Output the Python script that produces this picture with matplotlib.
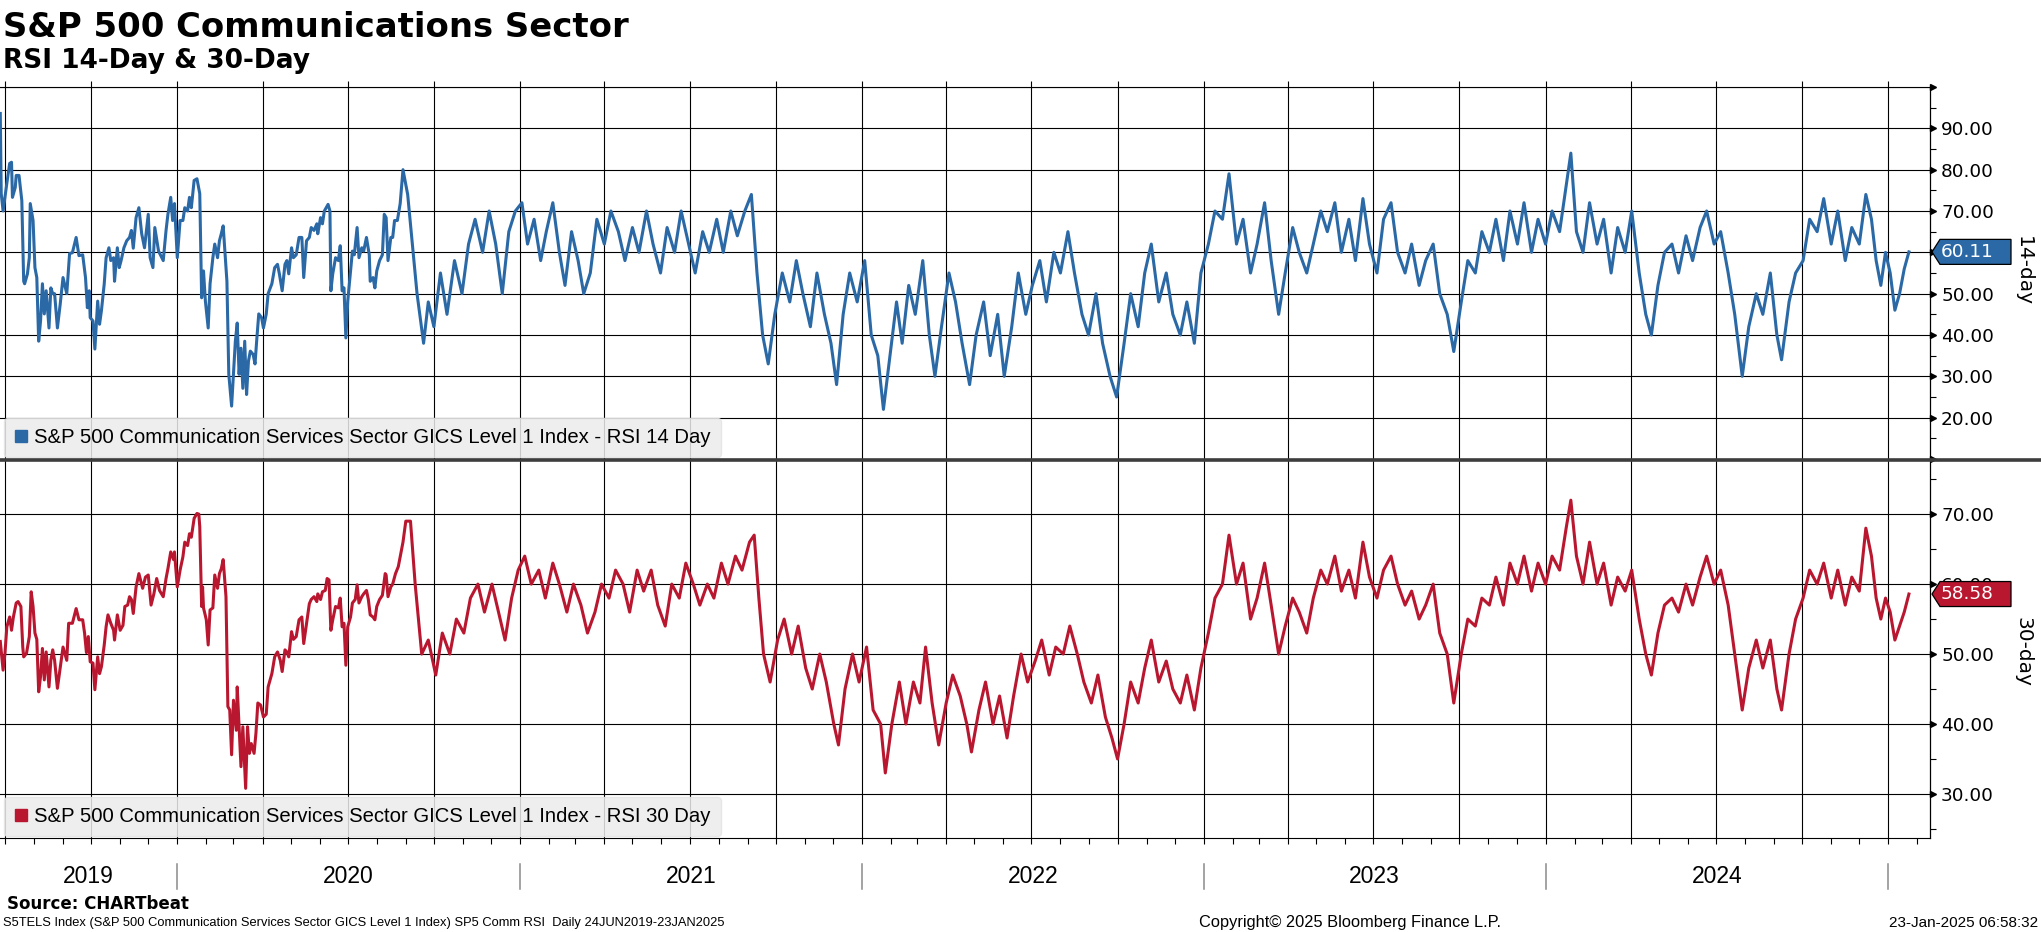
import pandas as pd
import matplotlib
matplotlib.use('Agg')
import matplotlib.pyplot as plt
import matplotlib.dates as mdates
import matplotlib.transforms as mtransforms
from matplotlib.ticker import MultipleLocator, FuncFormatter
from matplotlib.lines import Line2D
from matplotlib.patches import Polygon

# ---- data: day offsets from 2019-07-01 and RSI values ----
base = pd.Timestamp('2019-07-01')

day14 = [-5, -4, -2, 2, 5, 7, 8, 11, 12, 15, 18, 20, 21, 24, 26, 27, 30, 32, 34, 36, 38, 40, 42, 44, 47, 49, 51, 53,
         56, 59, 62, 66, 69, 72, 76, 79, 83, 86, 88, 90, 91, 94, 96, 99, 101, 103, 106, 108, 111, 113, 116, 117, 120,
         122, 124, 127, 130, 133, 135, 137, 140, 143, 146, 149, 153, 155, 158, 160, 164, 166, 169, 172, 174, 177, 179,
         181, 184, 187, 190, 192, 195, 197, 199, 202, 205, 208, 210, 212, 214, 217, 219, 222, 224, 227, 229, 231, 233,
         237, 239, 242, 244, 246, 248, 250, 252, 254, 256, 258, 260, 262, 265, 267, 269, 271, 274, 276, 279, 281, 285,
         288, 291, 293, 296, 299, 301, 303, 306, 308, 311, 314, 317, 319, 322, 325, 327, 330, 333, 334, 337, 339, 341,
         343, 345, 347, 348, 350, 353, 356, 358, 360, 362, 364, 366, 369, 371, 373, 376, 378, 381, 383, 386, 389, 390,
         393, 395, 397, 400, 403, 405, 407, 409, 412, 414, 416, 419, 422,
         425, 430, 435, 440, 447, 452, 458, 465, 472, 480, 488, 495, 502, 510, 517, 524, 531, 538, 545, 552, 558, 565,
         572, 578, 585, 592, 598, 605, 612, 618, 625, 632, 640, 647, 655, 662, 670, 677, 685, 692, 700, 707, 715, 722,
         730, 737, 745, 752, 760, 767, 775, 782, 790, 797, 803, 809, 815, 822, 830, 838, 845, 852, 860, 867, 875, 882,
         888, 895, 902, 910, 918, 925, 932, 938, 945, 952, 958, 965, 972, 980, 987, 993, 1000, 1008, 1015, 1022, 1030,
         1037, 1045, 1052, 1060, 1067, 1075, 1082, 1090, 1097, 1105, 1112, 1120, 1127, 1135, 1142, 1150, 1157, 1165,
         1172, 1180, 1187, 1195, 1202, 1210, 1217, 1224, 1232, 1240, 1247, 1255, 1262, 1270, 1277, 1285, 1292, 1300,
         1307, 1315, 1322, 1330, 1337, 1345, 1352, 1360, 1367, 1375, 1382, 1390, 1397, 1405, 1412, 1420, 1427, 1435,
         1442, 1450, 1457, 1465, 1472, 1480, 1487, 1495, 1502, 1510, 1517, 1525, 1532, 1540, 1547, 1555, 1562, 1570,
         1577, 1585, 1592, 1600, 1607, 1615, 1622, 1630, 1637, 1645, 1652, 1660, 1667, 1672, 1678, 1685, 1692, 1700,
         1707, 1715, 1722, 1730, 1737, 1745, 1752, 1758, 1765, 1772, 1780, 1787, 1795, 1802, 1810, 1817, 1825, 1832,
         1840, 1847, 1855, 1862, 1870, 1877, 1885, 1892, 1897, 1905, 1912, 1920, 1927, 1935, 1942, 1950, 1957, 1965,
         1972, 1980, 1987, 1993, 1998, 2003, 2008, 2013, 2018, 2023, 2028, 2033]
rsi14 = [93.6, 74.2, 70.0, 76.7, 81.5, 81.8, 73.3, 75.7, 78.6, 78.6, 72.5, 53.0, 52.4, 54.8, 58.7, 71.8, 67.7, 56.3,
         53.9, 38.5, 43.4, 52.4, 45.1, 50.7, 41.7, 51.4, 50.0, 50.0, 41.7, 47.5, 53.9, 50.0, 59.7, 59.9, 63.6, 59.2,
         59.4, 53.9, 46.6, 50.7, 44.2, 43.4, 36.6, 48.2, 42.6, 45.9, 52.4, 58.7, 61.1, 58.0, 58.7, 53.0, 61.1, 56.3,
         58.0, 61.1, 62.8, 63.6, 65.3, 61.0, 68.4, 70.8, 64.5, 61.1, 69.2, 58.7, 56.3, 66.0, 60.3, 59.4, 58.0, 65.3,
         69.2, 73.3, 67.7, 71.8, 58.7, 67.7, 67.7, 70.8, 70.0, 73.3, 70.8, 77.4, 77.8, 74.2, 49.0, 55.5, 48.2, 41.7,
         52.4, 58.7, 62.0, 58.7, 62.8, 64.5, 66.4, 53.0, 30.5, 22.8, 30.5, 38.5, 42.9, 30.5, 36.8, 27.1, 38.5, 25.6,
         33.7, 36.1, 35.3, 33.0, 39.3, 45.1, 44.2, 41.7, 45.1, 50.0, 52.4, 56.3, 57.1, 54.8, 50.7, 57.1, 58.0, 54.8,
         61.1, 58.7, 59.4, 63.6, 63.6, 53.9, 62.8, 63.6, 66.0, 65.3, 66.9, 64.5, 68.4, 66.9, 70.0, 70.8, 71.6, 70.0,
         50.7, 54.8, 58.7, 58.0, 61.6, 50.7, 51.4, 39.3, 48.2, 55.5, 60.3, 59.4, 66.0, 58.7, 61.1, 60.3, 63.6, 59.4,
         53.0, 53.9, 51.4, 55.5, 58.0, 59.4, 69.2, 68.4, 58.0, 63.6, 63.6, 67.7, 67.7, 71.8,
         80, 74, 62, 50, 38, 48, 42, 55, 45, 58, 50, 62, 68, 60, 70, 62, 50, 65, 70, 72, 62, 68, 58, 65, 72, 60, 52, 65,
         58, 50, 55, 68, 62, 70, 65, 58, 66, 60, 70, 62, 55, 66, 60, 70, 62, 55, 65, 60, 68, 60, 70, 64, 70, 74, 55, 40,
         33, 45, 55, 48, 58, 50, 42, 55, 45, 38, 28, 45, 55, 48, 58, 40, 35, 22, 35, 48, 38, 52, 45, 58, 40, 30, 42, 55,
         48, 38, 28, 40, 48, 35, 45, 30, 42, 55, 45, 52, 58, 48, 60, 55, 65, 55, 45, 40, 50, 38, 30, 25, 38, 50, 42, 55,
         62, 48, 55, 45, 40, 48, 38, 55, 62, 70, 68, 79, 62, 68, 55, 62, 72, 58, 45, 55, 66, 60, 55, 62, 70, 65, 72, 60,
         68, 58, 73, 62, 55, 68, 72, 60, 55, 62, 52, 58, 62, 50, 45, 36, 48, 58, 55, 65, 60, 68, 58, 70, 62, 72, 60, 68,
         62, 70, 65, 76, 84, 65, 60, 72, 62, 68, 55, 66, 60, 70, 55, 45, 40, 52, 60, 62, 55, 64, 58, 66, 70, 62, 65, 55,
         45, 30, 42, 50, 45, 55, 40, 34, 48, 55, 58, 68, 65, 73, 62, 70, 58, 66, 62, 74, 68, 58, 52, 60, 55, 46, 50, 56,
         60.11]

day30 = [-5, -2, 0, 2, 5, 7, 9, 12, 14, 17, 19, 20, 23, 26, 28, 30, 32, 34, 36, 38, 40, 42, 44, 47, 49, 51, 53, 56,
         59, 62, 66, 68, 72, 76, 79, 83, 85, 87, 89, 91, 94, 96, 99, 101, 103, 106, 108, 110, 113, 116, 117, 120, 123,
         126, 128, 131, 133, 135, 137, 140, 143, 147, 150, 153, 156, 159, 162, 165, 169, 172, 174, 177, 180, 181, 184,
         187, 190, 192, 195, 197, 199, 202, 205, 207, 208, 210, 211, 212, 215, 217, 219, 222, 224, 227, 229, 231, 233,
         236, 238, 240, 242, 244, 247, 248, 250, 252, 254, 257, 259, 261, 263, 266, 268, 270, 273, 276, 279, 281, 285,
         288, 291, 294, 296, 299, 301, 303, 306, 308, 311, 314, 317, 319, 322, 325, 327, 330, 333, 334, 337, 339, 342,
         344, 346, 348, 350, 353, 356, 358, 360, 362, 364, 366, 369, 371, 374, 376, 378, 381, 383, 386, 388, 390, 393,
         395, 397, 400, 403, 406, 407, 409, 412, 414, 417, 420, 422,
         425, 428, 433, 438, 445, 452, 460, 467, 475, 482, 490, 497, 505, 512, 520, 527, 534, 541, 548, 555, 562, 570,
         577, 585, 592, 600, 607, 615, 622, 630, 637, 645, 652, 660, 667, 675, 682, 690, 697, 705, 712, 720, 727, 735,
         742, 750, 757, 765, 772, 780, 787, 795, 800, 805, 810, 817, 825, 832, 840, 847, 855, 862, 870, 877, 885, 890,
         897, 905, 912, 920, 927, 935, 940, 947, 955, 962, 970, 977, 983, 990, 997, 1005, 1012, 1020, 1027, 1032, 1040,
         1047, 1055, 1062, 1070, 1077, 1085, 1092, 1100, 1107, 1115, 1122, 1130, 1137, 1145, 1152, 1160, 1167, 1175,
         1182, 1188, 1195, 1202, 1210, 1217, 1224, 1232, 1240, 1247, 1255, 1262, 1270, 1277, 1285, 1292, 1300, 1307,
         1315, 1322, 1330, 1337, 1345, 1352, 1360, 1367, 1375, 1382, 1390, 1397, 1405, 1412, 1420, 1427, 1435, 1442,
         1450, 1457, 1465, 1472, 1480, 1487, 1495, 1502, 1510, 1517, 1525, 1532, 1540, 1547, 1555, 1562, 1570, 1577,
         1585, 1592, 1600, 1607, 1615, 1622, 1630, 1637, 1645, 1652, 1660, 1667, 1672, 1678, 1685, 1692, 1700, 1707,
         1715, 1722, 1730, 1737, 1745, 1752, 1758, 1765, 1772, 1780, 1787, 1795, 1802, 1810, 1817, 1825, 1832, 1840,
         1847, 1855, 1862, 1870, 1877, 1885, 1892, 1897, 1905, 1912, 1920, 1927, 1935, 1942, 1950, 1957, 1965, 1972,
         1980, 1987, 1993, 1998, 2003, 2008, 2013, 2018, 2023, 2028, 2033]
rsi30 = [51.8, 47.7, 50.1, 53.9, 55.3, 53.4, 55.3, 57.3, 57.5, 56.8, 51.0, 49.6, 50.1, 52.5, 58.9, 56.8, 53.0, 52.1,
         44.6, 46.8, 50.8, 46.3, 50.3, 45.3, 49.1, 50.6, 49.1, 45.1, 48.0, 51.0, 49.1, 54.4, 54.4, 56.5, 54.9, 54.9,
         53.0, 50.2, 52.5, 48.9, 48.7, 44.9, 49.6, 47.2, 48.2, 51.3, 53.9, 55.6, 54.4, 53.4, 52.0, 55.6, 53.4, 54.1,
         56.8, 57.0, 58.2, 57.8, 55.8, 59.6, 61.5, 59.4, 61.0, 61.3, 57.0, 58.6, 60.8, 59.1, 58.2, 60.8, 62.2, 64.6,
         63.5, 64.6, 59.6, 62.0, 63.9, 66.0, 65.5, 67.2, 66.7, 69.4, 70.1, 70.0, 68.2, 56.8, 59.6, 56.6, 54.9, 51.3,
         56.3, 56.6, 61.3, 59.4, 61.5, 62.2, 63.5, 58.2, 42.5, 42.0, 35.6, 43.4, 39.1, 45.3, 39.6, 33.9, 39.6, 30.8,
         39.6, 35.8, 37.2, 35.8, 38.7, 43.0, 42.7, 41.0, 41.4, 45.3, 47.2, 49.6, 50.3, 49.1, 47.5, 50.6, 50.3, 49.6,
         53.2, 52.1, 52.5, 54.9, 55.3, 51.5, 54.4, 57.2, 57.8, 58.2, 57.5, 58.6, 57.8, 58.9, 59.1, 60.8, 60.6, 53.4,
         54.9, 56.8, 56.6, 58.0, 53.9, 54.4, 48.4, 53.9, 55.3, 57.3, 57.8, 59.9, 57.3, 58.2, 58.6, 59.1, 57.8, 55.6,
         55.3, 54.9, 56.8, 57.8, 58.4, 61.5, 61.3, 58.2, 59.6, 60.0, 61.5, 62.5, 63.9,
         66, 69, 69, 60, 50, 52, 47, 53, 50, 55, 53, 58, 60, 56, 60, 56, 52, 58, 62, 64, 60, 62, 58, 63, 60, 56, 60, 57,
         53, 56, 60, 58, 62, 60, 56, 62, 59, 62, 57, 54, 60, 58, 63, 60, 57, 60, 58, 63, 60, 64, 62, 66, 67, 58, 50, 46,
         52, 55, 50, 54, 48, 45, 50, 46, 40, 37, 45, 50, 46, 51, 42, 40, 33, 40, 46, 40, 46, 43, 51, 43, 37, 43, 47, 44,
         40, 36, 42, 46, 40, 44, 38, 44, 50, 46, 49, 52, 47, 51, 50, 54, 50, 46, 43, 47, 41, 38, 35, 40, 46, 43, 48, 52,
         46, 49, 45, 43, 47, 42, 48, 53, 58, 60, 67, 60, 63, 55, 58, 63, 57, 50, 54, 58, 56, 53, 58, 62, 60, 64, 59, 62,
         58, 66, 61, 58, 62, 64, 60, 57, 59, 55, 57, 60, 53, 50, 43, 50, 55, 54, 58, 57, 61, 57, 63, 60, 64, 59, 63, 60,
         64, 62, 68, 72, 64, 60, 66, 60, 63, 57, 61, 59, 62, 55, 50, 47, 53, 57, 58, 56, 60, 57, 61, 64, 60, 62, 57, 50,
         42, 48, 52, 48, 52, 45, 42, 50, 55, 58, 62, 60, 63, 58, 62, 57, 61, 59, 68, 64, 58, 55, 58, 56, 52, 54, 56,
         58.58]

label14 = 'S&P 500 Communication Services Sector GICS Level 1 Index - RSI 14 Day'
label30 = 'S&P 500 Communication Services Sector GICS Level 1 Index - RSI 30 Day'
years = [2019, 2020, 2021, 2022, 2023, 2024]

blue = '#2b69a6'
red = '#b9172f'
W, H = 2041, 932
narrow = ['Liberation Sans', 'DejaVu Sans']

x0 = base - pd.Timedelta(days=5.3)
x1 = base + pd.Timedelta(days=2055.5)

fig = plt.figure(figsize=(W / 100, H / 100), dpi=100)
ax1 = fig.add_axes([0, 1 - 459 / H, 1930 / W, 372 / H])
ax2 = fig.add_axes([0, 1 - 838 / H, 1930 / W, 377 / H])


def style(ax, ylim, show):
    ax.set_xlim(x0, x1)
    ax.set_ylim(ylim)
    ax.yaxis.tick_right()
    ax.yaxis.set_major_locator(MultipleLocator(10))
    ax.yaxis.set_minor_locator(MultipleLocator(5))
    ax.yaxis.set_major_formatter(FuncFormatter(lambda v, p: '%.2f' % v if show[0] <= v <= show[1] else ''))
    ax.xaxis.set_major_locator(mdates.MonthLocator(bymonth=[1, 4, 7, 10]))
    ax.xaxis.set_minor_locator(mdates.MonthLocator())
    ax.grid(True, which='major', color='black', lw=0.8)
    ax.tick_params(axis='y', which='major', length=0, pad=8, labelsize=13.3)
    ax.tick_params(axis='y', which='minor', length=4, width=0.8, direction='out')
    ax.spines['left'].set_visible(False)
    ax.spines['right'].set_linewidth(0.9)
    # little arrow heads on the major y ticks
    tr = mtransforms.blended_transform_factory(ax.transAxes, ax.transData) + \
        mtransforms.ScaledTranslation(2.4 / 72, 0, fig.dpi_scale_trans)
    for v in ax.get_yticks():
        if ylim[0] <= v <= ylim[1]:
            ax.plot(1, v, marker='>', ms=5, color='black', transform=tr, clip_on=False)


style(ax1, (10, 100), (15, 95))
style(ax2, (23.7, 77.6), (25, 75))

ax1.tick_params(axis='x', which='major', top=True, bottom=False, labelbottom=False, direction='out', length=4)
ax1.tick_params(axis='x', which='minor', top=False, bottom=False)
ax1.spines['bottom'].set_visible(False)
ax2.spines['top'].set_visible(False)
ax2.tick_params(axis='x', which='both', bottom=True, top=False, labelbottom=False, direction='out', length=4,
                width=0.8)

d14 = base + pd.to_timedelta(day14, unit='D')
d30 = base + pd.to_timedelta(day30, unit='D')
ax1.plot(d14, rsi14, color=blue, lw=2.2, solid_joinstyle='round')
ax2.plot(d30, rsi30, color=red, lw=2.2, solid_joinstyle='round')

for ax, col, lab in [(ax1, blue, label14), (ax2, red, label30)]:
    h = Line2D([], [], marker='s', ls='none', color=col, ms=8)
    leg = ax.legend([h], [lab], loc='lower left', bbox_to_anchor=(0.002, 0.005), borderaxespad=0,
                    handlelength=0.7, handletextpad=0.3, borderpad=0.5, fancybox=True,
                    prop={'family': narrow, 'size': 14.6})
    leg.get_frame().set_facecolor('#ececec')
    leg.get_frame().set_edgecolor('#e4e4e4')
    leg.get_frame().set_alpha(0.85)

# divider between panels
fig.add_artist(Line2D([0, 1], [1 - 460 / H, 1 - 460 / H], transform=fig.transFigure, color='#3d3d3d', lw=2.6))

# year labels and separators under the lower panel
sep_tr = mtransforms.blended_transform_factory(ax2.transData, ax2.transAxes)
for y in years + [years[-1] + 1]:
    jan = pd.Timestamp('%d-01-01' % y)
    if x0 < jan < x1:
        ax2.plot([jan, jan], [-0.069, -0.135], color='#8a8a8a', lw=1.1, transform=sep_tr, clip_on=False)
for y in years:
    s = max(pd.Timestamp('%d-01-01' % y), x0)
    e = min(pd.Timestamp('%d-01-01' % (y + 1)), x1)
    ax2.text(s + (e - s) / 2, -0.102, str(y), transform=sep_tr, ha='center', va='center',
             fontsize=16.5, family=narrow)

# value tags on the right axis
for ax, val, col in [(ax1, rsi14[-1], blue), (ax2, rsi30[-1], red)]:
    yc = ax.transData.transform((mdates.date2num(x1), val))[1]
    pts = [(1932, yc), (1940, yc + 12.5), (2011, yc + 12.5), (2011, yc - 12.5), (1940, yc - 12.5)]
    fig.add_artist(Polygon(pts, closed=True, facecolor=col, edgecolor='black', lw=0.9,
                           transform=mtransforms.IdentityTransform()))
    fig.text(1941 / W, yc / H, '%.2f' % val, color='white', fontsize=13.3, ha='left', va='center')

fig.text(2023 / W, 1 - 271 / H, '14-day', rotation=270, ha='center', va='center', fontsize=14.5)
fig.text(2023 / W, 1 - 652 / H, '30-day', rotation=270, ha='center', va='center', fontsize=14.5)

# titles
fig.text(3 / W, 1 - 37 / H, 'S&P 500 Communications Sector', fontsize=24.4, fontweight='bold', va='baseline')
fig.text(3 / W, 1 - 68 / H, 'RSI 14-Day & 30-Day', fontsize=19, fontweight='bold', va='baseline')

# footer
fig.text(7 / W, 1 - 909 / H, 'Source: CHARTbeat', fontsize=12, fontweight='bold', va='baseline')
fig.text(3 / W, 1 - 923 / H, 'S5TELS Index (S&P 500 Communication Services Sector GICS Level 1 Index) SP5 Comm RSI  '
         'Daily 24JUN2019-23JAN2025', fontsize=9.3, family=narrow, va='center')
fig.text(1350 / W, 1 - 923 / H, 'Copyright\u00a9 2025 Bloomberg Finance L.P.', fontsize=11.8, family=narrow,
         ha='center', va='center')
fig.text(2038 / W, 1 - 923 / H, '23-Jan-2025 06:58:32', fontsize=11, family=narrow, ha='right', va='center')

plt.savefig('out.png', dpi=100)
